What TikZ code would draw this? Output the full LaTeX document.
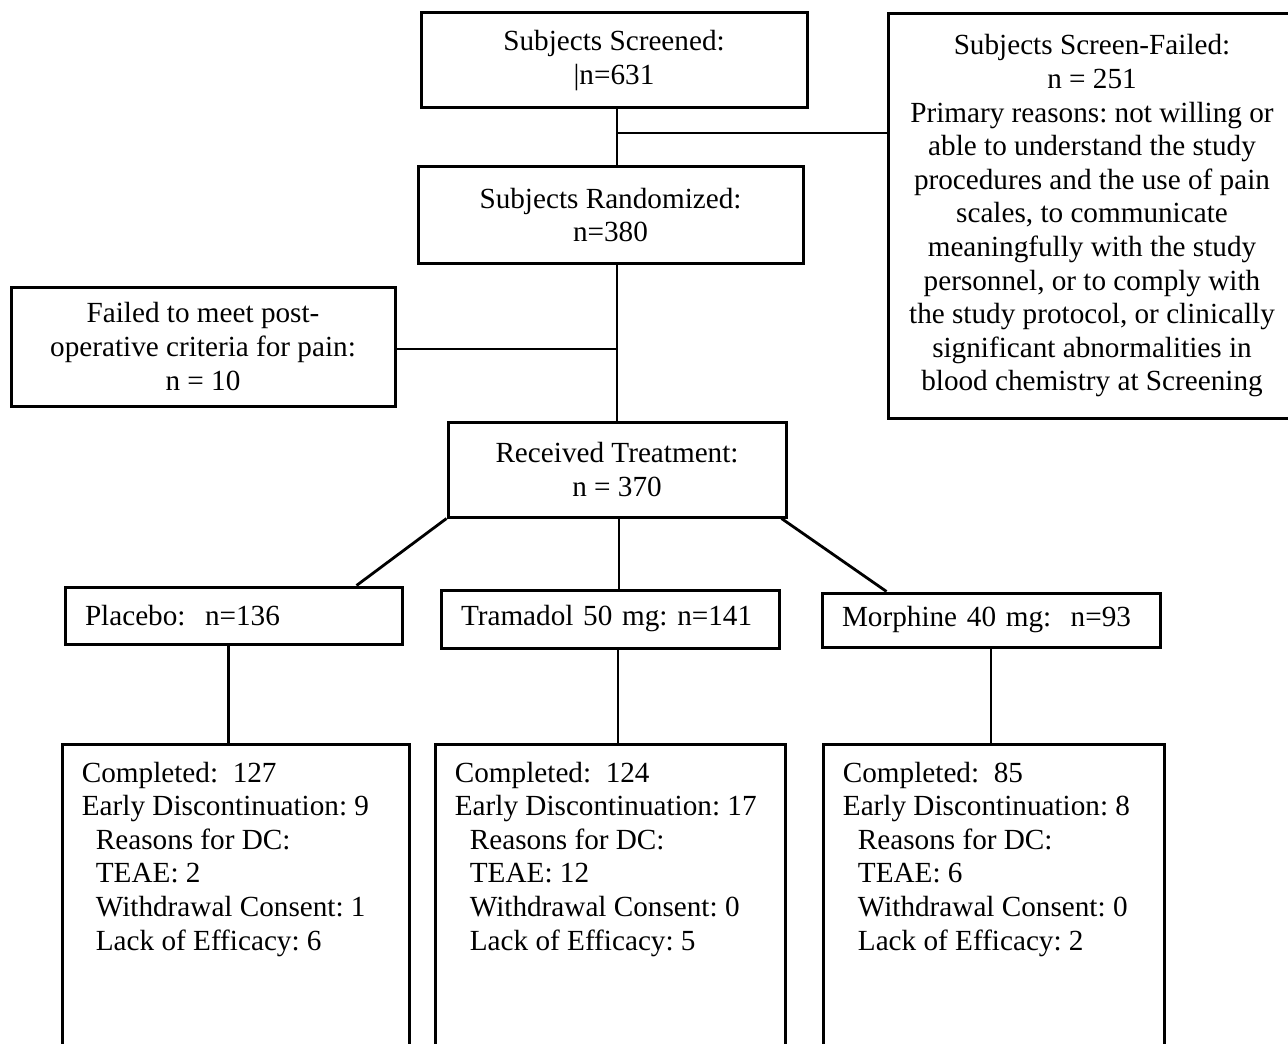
\documentclass[tikz,border=0pt]{standalone}
\usepackage{fontspec}
\setmainfont{Liberation Serif}
\frenchspacing
\begin{document}
\begin{tikzpicture}[x=0.5pt,y=-0.5pt,
  box/.style={draw, line width=1.5pt, inner sep=0pt, align=center, font=\fontsize{14.6pt}{16.8pt}\selectfont},
  lbox/.style={box, align=left, inner xsep=10pt},
  obox/.style={draw, line width=1.5pt, inner sep=0pt},
  txt/.style={inner sep=0pt, align=left, font=\fontsize{14.6pt}{16.8pt}\selectfont},
  conn/.style={line width=1.4pt}]
\clip (0,0) rectangle (1288,1043);
\node[box, minimum width=193pt, minimum height=47.5pt] (scr) at (614,60.5) {Subjects Screened:\\|n=631};
\node[box, minimum width=204pt, minimum height=202pt] (fail) at (1092,216) {Subjects Screen-Failed:\\n = 251\\Primary reasons: not willing or\\able to understand the study\\procedures and the use of pain\\scales, to communicate\\meaningfully with the study\\personnel, or to comply with\\the study protocol, or clinically\\significant abnormalities in\\blood chemistry at Screening};
\node[box, minimum width=192.5pt, minimum height=48pt] (rand) at (610.5,215) {Subjects Randomized:\\n=380};
\node[box, minimum width=192pt, minimum height=59.5pt] (post) at (203,346.5) {Failed to meet post-\\operative criteria for pain:\\n = 10};
\node[box, minimum width=169pt, minimum height=47.5pt] (recv) at (617,469.5) {Received Treatment:\\n = 370};
\node[lbox, text width=148.5pt, minimum height=28.5pt] (plac) at (233.5,615.5) {Placebo:\ \ n=136};
\node[lbox, text width=149pt, minimum height=29pt] (tram) at (610,619) {Tramadol 50 mg: n=141};
\node[lbox, text width=149pt, minimum height=27pt] (morph) at (991,620) {Morphine 40 mg:\ \ n=93};
\node[obox, minimum width=173.5pt, minimum height=153pt] (c1) at (235.5,897) {};
\node[obox, minimum width=175pt, minimum height=153pt] (c2) at (610,897) {};
\node[obox, minimum width=170.5pt, minimum height=153pt] (c3) at (993.5,897) {};
\node[txt, anchor=north west] (c1t) at ([xshift=10.5pt,yshift=-9.5pt]c1.north west) {Completed:\ \ 127\\Early Discontinuation: 9\\\hspace*{7pt}Reasons for DC:\\\hspace*{7pt}TEAE: 2\\\hspace*{7pt}Withdrawal Consent: 1\\\hspace*{7pt}Lack of Efficacy: 6};
\node[txt, anchor=north west] (c2t) at ([xshift=10.5pt,yshift=-9.5pt]c2.north west) {Completed:\ \ 124\\Early Discontinuation: 17\\\hspace*{7.5pt}Reasons for DC:\\\hspace*{7.5pt}TEAE: 12\\\hspace*{7.5pt}Withdrawal Consent: 0\\\hspace*{7.5pt}Lack of Efficacy: 5};
\node[txt, anchor=north west] (c3t) at ([xshift=10.5pt,yshift=-9.5pt]c3.north west) {Completed:\ \ 85\\Early Discontinuation: 8\\\hspace*{7.5pt}Reasons for DC:\\\hspace*{7.5pt}TEAE: 6\\\hspace*{7.5pt}Withdrawal Consent: 0\\\hspace*{7.5pt}Lack of Efficacy: 2};
\coordinate (j1) at (617,133);
\coordinate (j2) at (617,349);
\draw[conn] (scr.south -| recv.north) -- (rand.north -| recv.north);
\draw[conn] (rand.south -| recv.north) -- (recv.north);
\draw[conn] (j1) -- (j1 -| fail.west);
\draw[conn] (j2) -- (j2 -| post.east);
\draw[conn] (recv.south west) -- ([xshift=-23.5pt]plac.north east);
\draw[conn] ([xshift=-3pt]recv.south east) -- ([xshift=33pt]morph.north west);
\draw[conn] ([xshift=1pt]recv.south) -- ([xshift=1pt]recv.south |- tram.north);
\draw[conn] ([xshift=-2.5pt]plac.south) -- ([xshift=-2.5pt]plac.south |- c1.north);
\draw[conn] ([xshift=4pt]tram.south) -- ([xshift=4pt]tram.south |- c2.north);
\draw[conn] (morph.south) -- (morph.south |- c3.north);
\end{tikzpicture}
\end{document}
